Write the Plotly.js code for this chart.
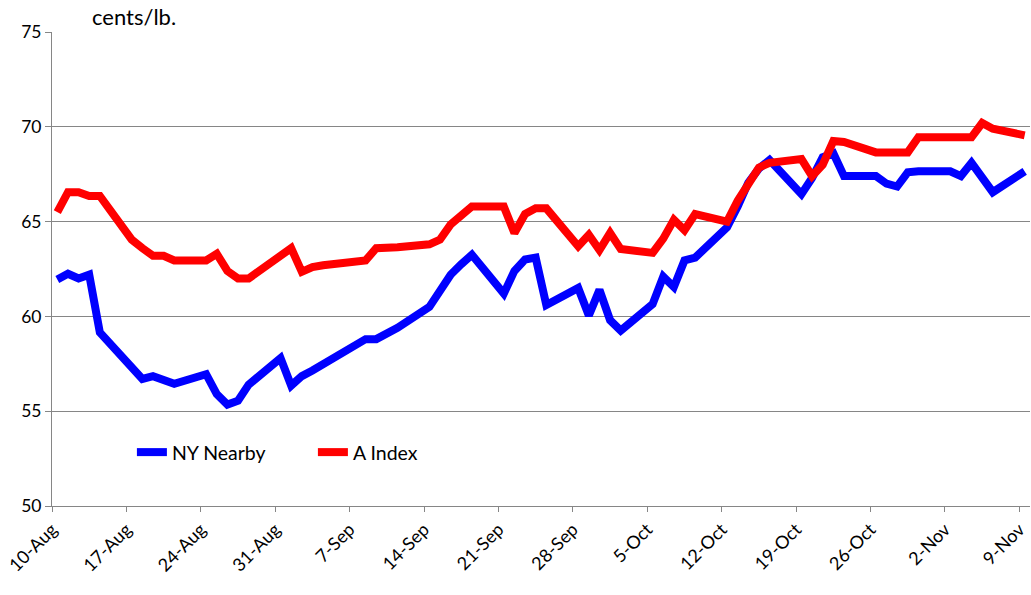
<!DOCTYPE html>
<html>
<head>
<meta charset="utf-8">
<script src="https://cdn.plot.ly/plotly-3.0.1.min.js"></script>
<style>
  html, body { margin: 0; padding: 0; background: #fff; }
  #chart { width: 1031px; height: 595px; }
</style>
</head>
<body>
<div id="chart"></div>
<script>
// Trading dates (2009), weekdays only
const dates = [
  '2009-08-10','2009-08-11','2009-08-12','2009-08-13','2009-08-14',
  '2009-08-17','2009-08-18','2009-08-19','2009-08-20','2009-08-21',
  '2009-08-24','2009-08-25','2009-08-26','2009-08-27','2009-08-28',
  '2009-08-31','2009-09-01','2009-09-02','2009-09-03','2009-09-04',
  '2009-09-08','2009-09-09','2009-09-10','2009-09-11',
  '2009-09-14','2009-09-15','2009-09-16','2009-09-17','2009-09-18',
  '2009-09-21','2009-09-22','2009-09-23','2009-09-24','2009-09-25',
  '2009-09-28','2009-09-29','2009-09-30','2009-10-01','2009-10-02',
  '2009-10-05','2009-10-06','2009-10-07','2009-10-08','2009-10-09',
  '2009-10-12','2009-10-13','2009-10-14','2009-10-15','2009-10-16',
  '2009-10-19','2009-10-20','2009-10-21','2009-10-22','2009-10-23',
  '2009-10-26','2009-10-27','2009-10-28','2009-10-29','2009-10-30',
  '2009-11-02','2009-11-03','2009-11-04','2009-11-05','2009-11-06',
  '2009-11-09'
];

const nyNearby = [
  61.95, 62.25, 62.0, 62.2, 59.15,
  57.3, 56.7, 56.85, 56.65, 56.45,
  56.95, 55.9, 55.35, 55.55, 56.4,
  57.8, 56.35, 56.85, 57.15, 57.5,
  58.8, 58.8, 59.05, 59.4,
  60.5, 61.45, 62.2, 62.75, 63.25,
  61.2, 62.4, 63.0, 63.1, 60.6,
  61.5, 60.05, 61.4, 59.8, 59.25,
  60.65, 62.1, 61.55, 62.95, 63.1,
  64.7, 65.8, 67.05, 67.8, 68.25,
  66.45, 67.3, 68.4, 68.6, 67.4,
  67.4, 67.0, 66.85, 67.6, 67.65,
  67.65, 67.4, 68.1, 67.3, 66.55,
  67.65
];

const aIndex = [
  65.5, 66.55, 66.55, 66.35, 66.35,
  64.05, 63.6, 63.2, 63.2, 62.95,
  62.95, 63.3, 62.4, 62.0, 62.0,
  63.2, 63.6, 62.35, 62.6, 62.7,
  62.95, 63.6, 63.6, 63.65,
  63.8, 64.05, 64.85, 65.35, 65.8,
  65.8, 64.4, 65.4, 65.7, 65.7,
  63.7, 64.3, 63.5, 64.4, 63.55,
  63.35, 64.1, 65.1, 64.55, 65.4,
  65.0, 66.1, 67.0, 67.85, 68.1,
  68.3, 67.4, 68.0, 69.25, 69.2,
  68.65, 68.65, 68.65, 68.65, 69.45,
  69.45, 69.45, 69.45, 70.2, 69.9,
  69.55
];

const tickDates = [
  '2009-08-10','2009-08-17','2009-08-24','2009-08-31','2009-09-07',
  '2009-09-14','2009-09-21','2009-09-28','2009-10-05','2009-10-12',
  '2009-10-19','2009-10-26','2009-11-02','2009-11-09'
];
const tickLabels = [
  '10-Aug','17-Aug','24-Aug','31-Aug','7-Sep','14-Sep','21-Sep',
  '28-Sep','5-Oct','12-Oct','19-Oct','26-Oct','2-Nov','9-Nov'
];

// Excel places daily points in the middle of each day slot
const xMid = dates.map(d => d + ' 12:00');

const traces = [
  { x: xMid, y: nyNearby, name: 'NY Nearby', type: 'scatter', mode: 'lines',
    line: { color: '#0000FF', width: 8, shape: 'linear' } },
  { x: xMid, y: aIndex, name: 'A Index', type: 'scatter', mode: 'lines',
    line: { color: '#FF0000', width: 8, shape: 'linear' } }
];

const FONT = 'Lato, "Open Sans", "DejaVu Sans", sans-serif';

const layout = {
  width: 1031, height: 595,
  margin: { l: 52, r: 1, t: 32, b: 89 },
  paper_bgcolor: '#ffffff', plot_bgcolor: '#ffffff',
  font: { family: FONT, size: 16, color: '#000000' },
  showlegend: true,
  legend: {
    orientation: 'h', x: 0.0817, y: 0.113, xanchor: 'left', yanchor: 'middle',
    bgcolor: 'rgba(0,0,0,0)', font: { family: FONT, size: 19.5, color: '#000' },
    entrywidth: 136, entrywidthmode: 'pixels'
  },
  xaxis: {
    type: 'date',
    range: ['2009-08-10', '2009-11-10'],
    tickmode: 'array', tickvals: tickDates, ticktext: tickLabels,
    tickangle: -45,
    showgrid: false, zeroline: false,
    showline: true, linecolor: '#868686', linewidth: 1,
    ticks: 'outside', ticklen: 5, tickcolor: '#868686',
    tickfont: { family: FONT, size: 18, color: '#000' }
  },
  yaxis: {
    range: [50, 75], dtick: 5, tick0: 50,
    showgrid: true, gridcolor: '#868686', gridwidth: 1,
    zeroline: false,
    showline: true, linecolor: '#868686', linewidth: 1,
    ticks: 'outside', ticklen: 6, tickcolor: '#868686',
    tickfont: { family: FONT, size: 17.5, color: '#000' }
  },
  annotations: [{
    text: 'cents/lb.', xref: 'paper', yref: 'paper',
    x: 0.039, y: 1.032, xanchor: 'left', yanchor: 'middle',
    showarrow: false, font: { family: FONT, size: 22, color: '#000' }
  }]
};

Plotly.newPlot('chart', traces, layout, { displayModeBar: false, staticPlot: true });
</script>
</body>
</html>
